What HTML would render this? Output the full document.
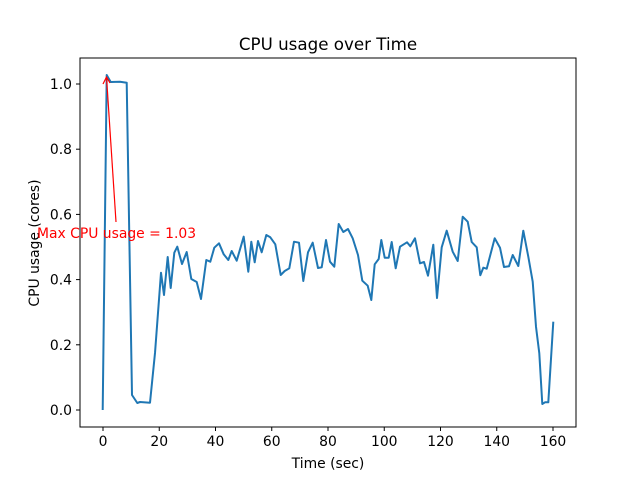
<!DOCTYPE html>
<html><head><meta charset="utf-8"><style>body{margin:0;background:#fff}svg{display:block}</style></head><body>
<svg width="640" height="480" xmlns="http://www.w3.org/2000/svg" font-family="DejaVu Sans, Liberation Sans, sans-serif">
<rect width="640" height="480" fill="#fff"/>
<polyline fill="none" stroke="#1f77b4" stroke-width="2" stroke-linejoin="round" points="102.7,410 106.7,75 110.7,82 120,81.7 126.7,82.7 132,395 137.3,403 140,402 150,402.7 155,353 161,272.7 164,295 167.7,257 170.7,288 174.3,252.7 177.3,246.7 182,264 186.7,252 191.3,279 196.7,282 201,299 206.3,260 210.3,261.7 214.3,247.7 219,243.3 223.7,254.3 228.3,260 231.7,251 236.7,260.7 243.7,236.7 248.3,271.7 251.3,241.7 254.7,262.3 258,241 261.7,252.3 266.3,235 270.3,237.3 275.3,244.3 280.7,275 284.7,271 289.3,268.3 294,241.7 299,242.7 303.3,281 308,252.3 312.7,242.7 318,268 321.7,267.3 326,240 330,261.7 334.3,266.7 338.7,224 343.3,232 348,229 352.7,238.3 358,255 362.3,280.7 367.7,285.7 371.3,300 374.7,264.3 378.7,259 381.3,240 384.7,257.7 388.7,257.7 391.7,242 395.7,268.3 400,246.7 407,242.3 410.3,246.3 415,238.3 420,263.3 424,262 428,275.7 433.3,244.7 437,298 441.7,247.3 446.7,230.7 452.7,251.7 457.7,261 462.7,216.7 467.7,221.7 471.7,242 476.7,247.3 480.3,275.3 483.3,267.7 486.7,268.7 494.7,238.3 500,247.7 504,267 509,266.3 512.7,255 518.3,266 523.3,230.7 528.3,256.7 532.7,281.7 536,326.7 539.3,353.3 542.3,404 545,402.3 548.3,402.3 553.3,321.7"/>
<rect x="80" y="58" width="496" height="369" fill="none" stroke="#000" stroke-width="1"/>
<g stroke="#000">
<line x1="103" y1="427" x2="103" y2="431"/><line x1="159.25" y1="427" x2="159.25" y2="431"/><line x1="215.5" y1="427" x2="215.5" y2="431"/><line x1="271.75" y1="427" x2="271.75" y2="431"/><line x1="328" y1="427" x2="328" y2="431"/><line x1="384.25" y1="427" x2="384.25" y2="431"/><line x1="440.5" y1="427" x2="440.5" y2="431"/><line x1="496.75" y1="427" x2="496.75" y2="431"/><line x1="553" y1="427" x2="553" y2="431"/>
<line x1="76" y1="410" x2="80" y2="410"/><line x1="76" y1="344.8" x2="80" y2="344.8"/><line x1="76" y1="279.6" x2="80" y2="279.6"/><line x1="76" y1="214.4" x2="80" y2="214.4"/><line x1="76" y1="149.2" x2="80" y2="149.2"/><line x1="76" y1="84" x2="80" y2="84"/>
</g>
<g font-size="13.9" text-anchor="middle" fill="#000">
<text x="103" y="446">0</text><text x="159.25" y="446">20</text><text x="215.5" y="446">40</text><text x="271.75" y="446">60</text><text x="328" y="446">80</text><text x="384.25" y="446">100</text><text x="440.5" y="446">120</text><text x="496.75" y="446">140</text><text x="553" y="446">160</text>
</g>
<g font-size="13.9" text-anchor="end" fill="#000">
<text x="72" y="415">0.0</text><text x="72" y="349.8">0.2</text><text x="72" y="284.6">0.4</text><text x="72" y="219.4">0.6</text><text x="72" y="154.2">0.8</text><text x="72" y="89">1.0</text>
</g>
<text x="328" y="468" font-size="13.9" text-anchor="middle">Time (sec)</text>
<text x="0" y="0" font-size="13.9" text-anchor="middle" transform="translate(39,243) rotate(-90)">CPU usage (cores)</text>
<text x="328" y="50" font-size="16.7" text-anchor="middle">CPU usage over Time</text>
<line x1="116" y1="222" x2="106.5" y2="77" stroke="red" stroke-width="1.2"/>
<polyline points="103,84 106.5,77 110,83" fill="none" stroke="red" stroke-width="1.2"/>
<text x="37" y="238" font-size="13.9" fill="red">Max CPU usage = 1.03</text>
</svg>
</body></html>
